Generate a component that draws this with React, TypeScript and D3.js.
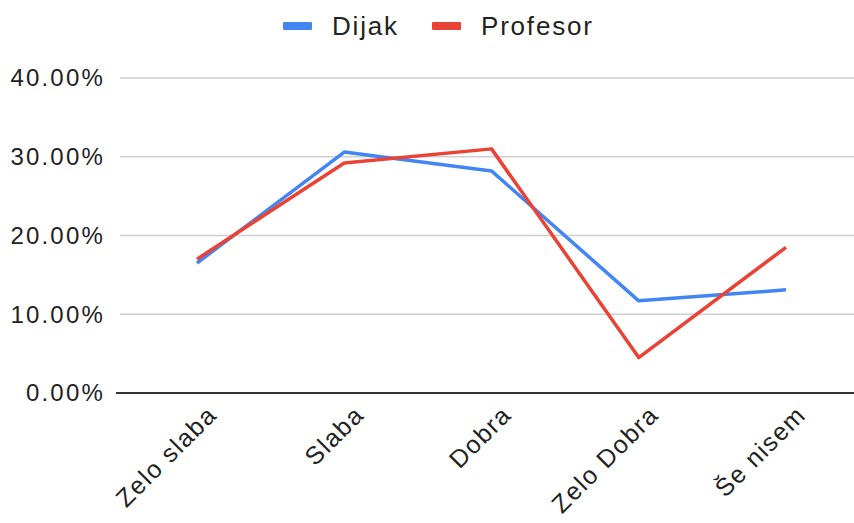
import React from "react";
import * as d3 from "d3";

const categories = ["Zelo slaba", "Slaba", "Dobra", "Zelo Dobra", "Še nisem"];
const dijak = [16.5, 30.6, 28.2, 11.7, 13.1];
const profesor = [17.0, 29.2, 31.0, 4.5, 18.5];
const yTicks = [0, 10, 20, 30, 40];
const seriesNames = ["Dijak", "Profesor"];
const colors = ["#4285F4", "#EA4335"];

const W = 854;
const H = 523;
const left = 120;
const right = 854;
const top = 78;
const bottom = 393;

export default function App() {
  const x = d3.scalePoint<string>().domain(categories).range([197, 786]);
  const y = d3.scaleLinear().domain([0, 40]).range([bottom, top]);
  const line = d3
    .line<number>()
    .x((_, i) => x(categories[i]) as number)
    .y((d) => y(d));
  const series = [dijak, profesor];
  const font = "Arial, 'Liberation Sans', sans-serif";
  return (
    <svg
      width={W}
      height={H}
      style={{ position: "absolute", left: 0, top: 0, background: "#fff" }}
      fontFamily={font}
    >
      {yTicks.map((t) => (
        <g key={t}>
          {t !== 0 && (
            <line x1={left} x2={right} y1={y(t)} y2={y(t)} stroke="#d0d0d0" strokeWidth={1.5} />
          )}
          <text
            x={105}
            y={y(t)}
            dy="0.35em"
            textAnchor="end"
            fontSize={24}
            letterSpacing={2.2}
            fill="#222"
          >
            {t.toFixed(2) + "%"}
          </text>
        </g>
      ))}
      <line x1={116} x2={right} y1={y(0)} y2={y(0)} stroke="#333" strokeWidth={2} />
      {series.map((s, i) => (
        <path
          key={i}
          d={line(s) as string}
          fill="none"
          stroke={colors[i]}
          strokeWidth={3.5}
          strokeLinejoin="round"
        />
      ))}
      {categories.map((c) => (
        <text
          key={c}
          transform={`translate(${(x(c) as number) + 9},${404}) rotate(-45)`}
          textAnchor="end"
          fontSize={25}
          letterSpacing={1.5}
          fill="#222"
          dy="0.7em"
        >
          {c}
        </text>
      ))}
      {seriesNames.map((n, i) => {
        const sx = i === 0 ? 283 : 432;
        return (
          <g key={n}>
            <rect x={sx} y={22} width={29} height={8} fill={colors[i]} rx={1} />
            <text x={sx + 49} y={26} dy="0.36em" fontSize={26} letterSpacing={1.8} fill="#222">
              {n}
            </text>
          </g>
        );
      })}
    </svg>
  );
}
